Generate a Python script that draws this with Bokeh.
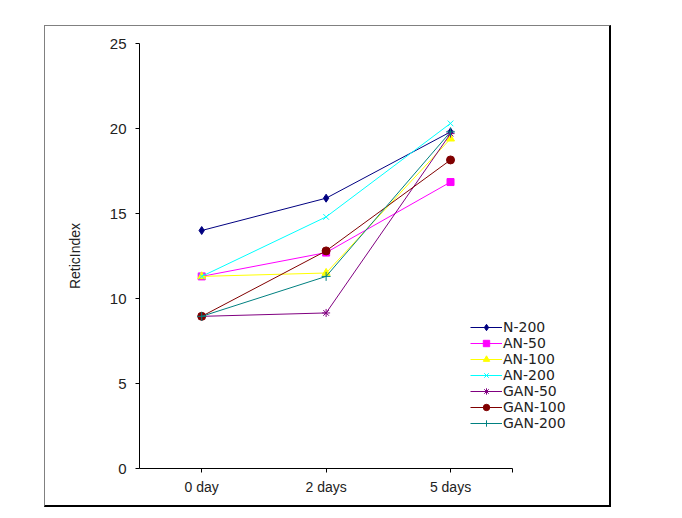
from bokeh.plotting import figure
from bokeh.models import Range1d, FixedTicker, Legend, LegendItem
from bokeh.embed import file_html
from bokeh.resources import INLINE

categories = ["0 day", "2 days", "5 days"]
series_names = ["N-200", "AN-50", "AN-100", "AN-200", "GAN-50", "GAN-100", "GAN-200"]
n200 = [14.0, 15.9, 19.8]
an50 = [11.3, 12.7, 16.85]
an100 = [11.3, 11.5, 19.4]
an200 = [11.3, 14.8, 20.3]
gan50 = [8.95, 9.15, 19.7]
gan100 = [8.95, 12.8, 18.15]
gan200 = [8.95, 11.3, 19.8]
y_ticks = [0, 5, 10, 15, 20, 25]

values = [n200, an50, an100, an200, gan50, gan100, gan200]
colors = ["#000080", "#FF00FF", "#FFFF00", "#00FFFF", "#800080", "#800000", "#008080"]
markers = ["diamond", "square", "triangle", "x", "asterisk", "circle", "cross"]
msizes = [8, 7, 8, 8, 8, 8, 9]

FONT = "Liberation Sans"
LFONT = "DejaVu Sans"

# frame: 139..598 px wide; the category axis occupies 370 px of it
ncat = len(categories)
x_end = ncat * (598 - 139) / 370.0

p = figure(width=564, height=479, output_backend="svg", toolbar_location=None,
           x_range=Range1d(0, x_end), y_range=Range1d(0, 25),
           min_border_left=94, min_border_right=10, min_border_top=17, min_border_bottom=40,
           background_fill_color="white", border_fill_color="white")
p.margin = (25, 0, 0, 44)
p.styles = {"border-top": "1px solid #808080", "border-left": "1px solid #808080",
            "border-right": "2px solid black", "border-bottom": "2px solid black",
            "box-sizing": "content-box"}
p.outline_line_color = None
p.xgrid.visible = False
p.ygrid.visible = False

xs = [i + 0.5 for i in range(ncat)]
xtick_pos = xs + [ncat]
p.xaxis.bounds = (0, ncat)
p.xaxis.ticker = FixedTicker(ticks=xtick_pos)
overrides = {x: c for x, c in zip(xs, categories)}
overrides[ncat] = ""
p.xaxis.major_label_overrides = overrides
p.xaxis.minor_tick_line_color = None
p.xaxis.major_tick_in = 0
p.xaxis.major_tick_out = 4
p.xaxis.axis_line_color = "black"
p.xaxis.major_tick_line_color = "black"
p.xaxis.major_label_text_font = FONT
p.xaxis.major_label_text_font_size = "14px"
p.xaxis.major_label_text_color = "#222222"
p.xaxis.major_label_standoff = 6

p.yaxis.ticker = FixedTicker(ticks=y_ticks)
p.yaxis.minor_tick_line_color = None
p.yaxis.major_tick_in = 0
p.yaxis.major_tick_out = 4
p.yaxis.axis_line_color = "black"
p.yaxis.major_tick_line_color = "black"
p.yaxis.major_label_text_font = FONT
p.yaxis.major_label_text_font_size = "15px"
p.yaxis.major_label_text_color = "#222222"
p.yaxis.major_label_standoff = 9
p.yaxis.axis_label = "ReticIndex"
p.yaxis.axis_label_text_font = FONT
p.yaxis.axis_label_text_font_size = "14px"
p.yaxis.axis_label_text_font_style = "normal"
p.yaxis.axis_label_text_color = "#222222"
p.yaxis.axis_label_standoff = 24

items = []
for name, vals, c, m, s in zip(series_names, values, colors, markers, msizes):
    r1 = p.line(xs, vals, line_color=c, line_width=1)
    r2 = p.scatter(xs, vals, marker=m, size=s, fill_color=c, line_color=c, line_width=1)
    items.append(LegendItem(label=name, renderers=[r1, r2]))

legend = Legend(items=items, location=(331, 37), orientation="vertical",
                padding=0, spacing=0, margin=0, label_standoff=1,
                glyph_width=32, glyph_height=16, label_height=16,
                label_text_font=LFONT, label_text_font_size="14px",
                label_text_color="#222222",
                border_line_color=None, background_fill_alpha=0)
p.add_layout(legend, "center")

open("out.html", "w").write(file_html(p, INLINE))
